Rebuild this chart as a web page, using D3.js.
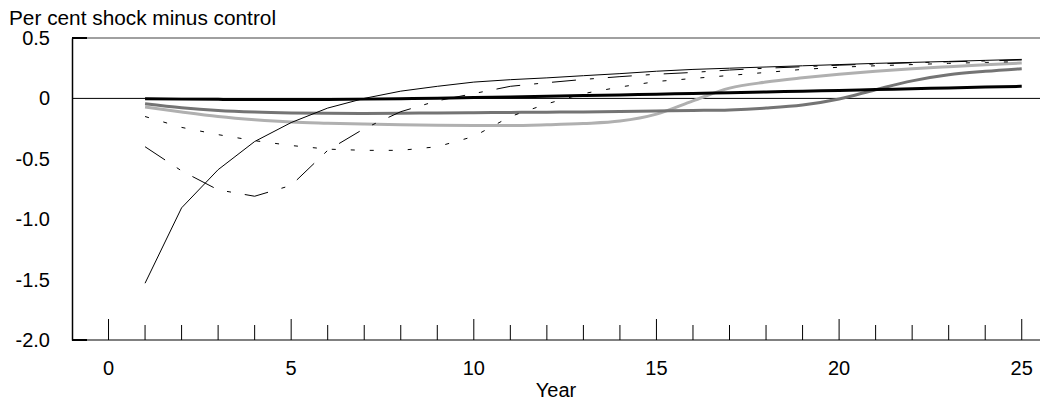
<!DOCTYPE html>
<html>
<head>
<meta charset="utf-8">
<script src="https://cdn.jsdelivr.net/npm/d3@7"></script>
<style>
body { margin: 0; background: #fff; }
text { font-family: "Liberation Sans", Arial, sans-serif; fill: #000; }
</style>
</head>
<body>
<div id="chart"></div>
<script>
(function() {

const w = 1054;
const h = 411;

const years = [1, 2, 3, 4, 5, 6, 7, 8, 9, 10, 11, 12, 13, 14, 15, 16, 17, 18, 19, 20, 21, 22, 23, 24, 25];

const thickBlack = [-0.003, -0.006, -0.008, -0.009, -0.01, -0.009, -0.006, -0.002, 0.002, 0.007, 0.012, 0.017, 0.023, 0.029, 0.035, 0.041, 0.047, 0.053, 0.06, 0.066, 0.073, 0.08, 0.087, 0.094, 0.10];
const thinBlack = [-1.53, -0.906, -0.59, -0.357, -0.20, -0.08, 0.0, 0.06, 0.10, 0.135, 0.155, 0.17, 0.188, 0.205, 0.225, 0.24, 0.25, 0.26, 0.27, 0.28, 0.29, 0.298, 0.306, 0.315, 0.323];
const dashDot = [-0.40, -0.60, -0.757, -0.81, -0.72, -0.43, -0.25, -0.11, -0.02, 0.04, 0.10, 0.13, 0.157, 0.18, 0.20, 0.215, 0.235, 0.25, 0.262, 0.275, 0.285, 0.295, 0.303, 0.31, 0.318];
const dotted = [-0.15, -0.24, -0.30, -0.35, -0.39, -0.42, -0.43, -0.43, -0.40, -0.315, -0.15, -0.045, 0.04, 0.094, 0.14, 0.165, 0.19, 0.215, 0.24, 0.258, 0.27, 0.28, 0.29, 0.298, 0.305];
const darkGrey = [-0.044, -0.077, -0.10, -0.113, -0.12, -0.123, -0.124, -0.122, -0.12, -0.118, -0.116, -0.114, -0.112, -0.108, -0.104, -0.10, -0.095, -0.08, -0.055, -0.005, 0.072, 0.145, 0.195, 0.224, 0.246];
const lightGrey = [-0.072, -0.113, -0.15, -0.177, -0.196, -0.205, -0.212, -0.218, -0.222, -0.224, -0.224, -0.218, -0.208, -0.188, -0.13, -0.02, 0.085, 0.135, 0.17, 0.20, 0.225, 0.245, 0.262, 0.278, 0.293];

const yTicks = [0.5, 0, -0.5, -1.0, -1.5, -2.0];
const yTickLabels = ["0.5", "0", "-0.5", "-1.0", "-1.5", "-2.0"];
const xTicks = [0, 5, 10, 15, 20, 25];
const yearTicks = d3.range(0, 26);

const svg = d3.select("#chart")
    .append("svg")
    .attr("width", w)
    .attr("height", h);

var x = d3.scaleLinear().domain([-1, 25.5]).range([72, 1040]);
var y = d3.scaleLinear().domain([-2, 0.5]).range([340, 38]);

// frame
svg.append("line")
    .attr("x1", x(-1)).attr("x2", x(25.5))
    .attr("y1", y(0.5)).attr("y2", y(0.5))
    .attr("stroke", "#808080").attr("stroke-width", 1.5);

svg.append("line")
    .attr("x1", x(-1)).attr("x2", x(25.5))
    .attr("y1", y(-2)).attr("y2", y(-2))
    .attr("stroke", "#808080").attr("stroke-width", 2);

svg.append("line")
    .attr("x1", x(-1)).attr("x2", x(25.5))
    .attr("y1", y(0)).attr("y2", y(0))
    .attr("stroke", "#000").attr("stroke-width", 1);

// year ticks, pointing up from the bottom
svg.append("g")
    .selectAll("line")
    .data(yearTicks)
    .enter()
    .append("line")
    .attr("x1", function(d) { return x(d); })
    .attr("x2", function(d) { return x(d); })
    .attr("y1", y(-2))
    .attr("y2", function(d) { return y(-2) - (d % 5 == 0 ? 21 : 15); })
    .attr("stroke", "#000")
    .attr("stroke-width", 1);

// y axis
var yAxis = d3.axisLeft(y)
    .tickValues(yTicks)
    .tickSize(0)
    .tickPadding(22)
    .tickFormat(function(d, i) { return yTickLabels[i]; });

var gy = svg.append("g")
    .attr("transform", "translate(" + x(-1) + ",0)")
    .call(yAxis);
gy.select(".domain").attr("stroke", "#000").attr("stroke-width", 1.5);
gy.selectAll("text")
    .attr("font-size", 20)
    .attr("font-family", "Liberation Sans, Arial, sans-serif")
    .attr("fill", "#000");

// short inner stubs at the ends of the y axis
svg.selectAll("line.stub")
    .data([0.5, -2])
    .enter()
    .append("line")
    .attr("class", "stub")
    .attr("x1", x(-1)).attr("x2", x(-1) + 15)
    .attr("y1", function(d) { return y(d); })
    .attr("y2", function(d) { return y(d); })
    .attr("stroke", "#000").attr("stroke-width", 2);

// x labels
svg.selectAll("text.xlab")
    .data(xTicks)
    .enter()
    .append("text")
    .attr("class", "xlab")
    .attr("x", function(d) { return x(d); })
    .attr("y", 375)
    .attr("text-anchor", "middle")
    .attr("font-size", 20)
    .text(function(d) { return d; });

svg.append("text")
    .attr("x", x(12.25))
    .attr("y", 397)
    .attr("text-anchor", "middle")
    .attr("font-size", 20)
    .text("Year");

svg.append("text")
    .attr("x", 9)
    .attr("y", 25)
    .attr("font-size", 20.8)
    .text("Per cent shock minus control");

// series: thin ones are straight segments, thick ones look smoothed
var series = [
    { values: lightGrey, colour: "#b0b0b0", width: 3, dash: null, smooth: true },
    { values: darkGrey, colour: "#747474", width: 3, dash: null, smooth: true },
    { values: dotted, colour: "#000", width: 1, dash: "4,15", smooth: false },
    { values: dashDot, colour: "#000", width: 1, dash: "24,14,4,14", smooth: false },
    { values: thinBlack, colour: "#000", width: 1, dash: null, smooth: false },
    { values: thickBlack, colour: "#000", width: 3, dash: null, smooth: true }
];

var line = d3.line()
    .x(function(d, i) { return x(years[i]); })
    .y(function(d) { return y(d); });

var smoothLine = d3.line()
    .x(function(d, i) { return x(years[i]); })
    .y(function(d) { return y(d); })
    .curve(d3.curveMonotoneX);

svg.selectAll("path.series")
    .data(series)
    .enter()
    .append("path")
    .attr("class", "series")
    .attr("fill", "none")
    .attr("stroke", function(d) { return d.colour; })
    .attr("stroke-width", function(d) { return d.width; })
    .attr("stroke-dasharray", function(d) { return d.dash; })
    .attr("d", function(d) { return d.smooth ? smoothLine(d.values) : line(d.values); });

})();
</script>
</body>
</html>
